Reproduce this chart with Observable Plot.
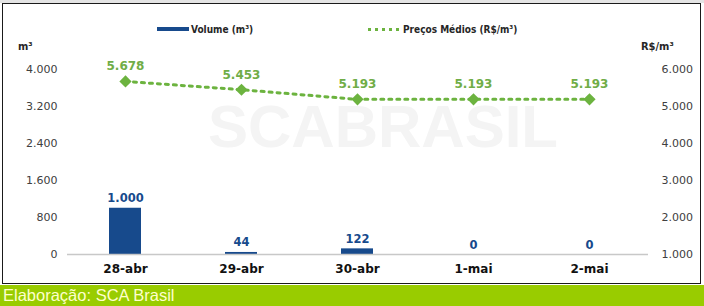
<!DOCTYPE html>
<html>
<head>
<meta charset="utf-8">
<script src="https://cdn.jsdelivr.net/npm/d3@7"></script>
<script src="https://cdn.jsdelivr.net/npm/@observablehq/plot@0.6"></script>
<style>
  html, body { margin: 0; padding: 0; background: #fff; }
  #page { position: relative; width: 704px; height: 306px; overflow: hidden; font-family: "DejaVu Sans", Verdana, sans-serif; }
  #topline { position: absolute; left: 0; top: 0; width: 704px; height: 3px; background: #e4e4e4; }
  #box { position: absolute; left: 2px; top: 3px; width: 697px; height: 279px; border: 1.5px solid #1a1a1a; }
  #chart { position: absolute; left: 0; top: 0; }
  #watermark { position: absolute; left: 0; width: 704px; top: 92px; height: 50px; line-height: 50px; text-align: center; padding-left: 62px; box-sizing: border-box;
    font: bold 60px "Liberation Sans", Arial, sans-serif; color: #f4f4f4; letter-spacing: 0px; }
  .unit { position: absolute; top: 40px; font: bold 11px "DejaVu Sans Condensed", "DejaVu Sans", sans-serif; color: #262626; }
  #legend { position: absolute; top: 21px; left: 0; width: 704px; height: 16px;
    font: bold 10px "Liberation Sans Narrow", "DejaVu Sans Condensed", sans-serif; color: #262626; }
  .lg { position: absolute; top: 0; display: flex; align-items: center; height: 16px; }
  .sw-bar { width: 32px; height: 4px; background: #174a8c; margin-right: 2px; }
  .sw-dot { width: 32px; height: 3px; margin-right: 3px;
    background-image: linear-gradient(to right, #6cb33f 0 3px, transparent 3px 7px); background-size: 7px 3px; }
  #footer { position: absolute; left: 0; top: 285px; width: 704px; height: 21px; background: #99cc00;
    font: 16.5px "Liberation Sans", Arial, sans-serif; color: #ffffcc; line-height: 21px; padding-left: 3px; box-sizing: border-box; }
</style>
</head>
<body>
<div id="page">
  <div id="topline"></div>
  <div id="box"></div>
  <div id="watermark">SCABRASIL</div>
  <div id="chart"></div>
  <div id="legend">
    <div class="lg" style="left:157px"><div class="sw-bar"></div>Volume (m³)</div>
    <div class="lg" style="left:368px"><div class="sw-dot"></div>Preços Médios (R$/m³)</div>
  </div>
  <div class="unit" style="left:18px">m³</div>
  <div class="unit" style="left:641px">R$/m³</div>
  <div id="footer">Elaboração: SCA Brasil</div>
</div>
<script>
// Daily volume traded and average price
const days = ["28-abr", "29-abr", "30-abr", "1-mai", "2-mai"];
const volume = [1000, 44, 122, 0, 0];          // m³
const price = [5678, 5453, 5193, 5193, 5193];  // R$/m³

const volumeTicks = [0, 800, 1600, 2400, 3200, 4000];
const priceTicks = [1000, 2000, 3000, 4000, 5000, 6000];

// Left axis: volume 0–4000; right axis: price 1000–6000, mapped onto the same y scale
const volMax = 4000, priceMin = 1000, priceMax = 6000;
const toY = p => (p - priceMin) * volMax / (priceMax - priceMin);

const br = d3.formatLocale({decimal: ",", thousands: ".", grouping: [3], currency: ["R$", ""]});
const fmt = br.format(",d");

const rows = days.map((d, i) => ({day: d, volume: volume[i], price: price[i], py: toY(price[i])}));

const blue = "#174a8c", green = "#6cb33f", greenText = "#70ad47", axisText = "#404040";

const chart = Plot.plot({
  width: 704,
  height: 284,
  marginLeft: 67,
  marginRight: 56,
  marginTop: 69,
  marginBottom: 30,
  style: {background: "transparent", fontFamily: "DejaVu Sans, Verdana, sans-serif"},
  x: {domain: days, paddingInner: 0.72, paddingOuter: 0.36},
  y: {domain: [0, volMax]},
  marks: [
    Plot.axisY({anchor: "left", ticks: volumeTicks, tickFormat: fmt, tickSize: 0, tickPadding: 10,
      fontSize: 11, fill: axisText, label: null}),
    Plot.axisY({anchor: "right", ticks: priceTicks.map(toY), tickFormat: (d, i) => fmt(priceTicks[i]),
      tickSize: 0, tickPadding: 13, fontSize: 11, fill: axisText, label: null}),
    Plot.axisX({tickSize: 0, tickPadding: 10, fontSize: 12, fontWeight: "bold", fill: "#111", label: null}),
    Plot.barY(rows, {x: "day", y: "volume", fill: blue}),
    Plot.ruleY([0], {stroke: "#c8c8c8", strokeWidth: 1.5}),
    Plot.text(rows, {x: "day", y: "volume", text: d => fmt(d.volume), lineAnchor: "bottom", dy: -6,
      fill: blue, fontSize: 11.5, fontWeight: "bold"}),
    Plot.lineY(rows, {x: "day", y: "py", stroke: green, strokeWidth: 3, strokeDasharray: "3 5"}),
    Plot.dot(rows, {x: "day", y: "py", symbol: "diamond2", r: 5.5, fill: green, stroke: "none"}),
    Plot.text(rows, {x: "day", y: "py", text: d => fmt(d.price), lineAnchor: "bottom", dy: -11,
      fill: greenText, fontSize: 12, fontWeight: "bold"})
  ]
});
document.getElementById("chart").append(chart);
</script>
</body>
</html>
